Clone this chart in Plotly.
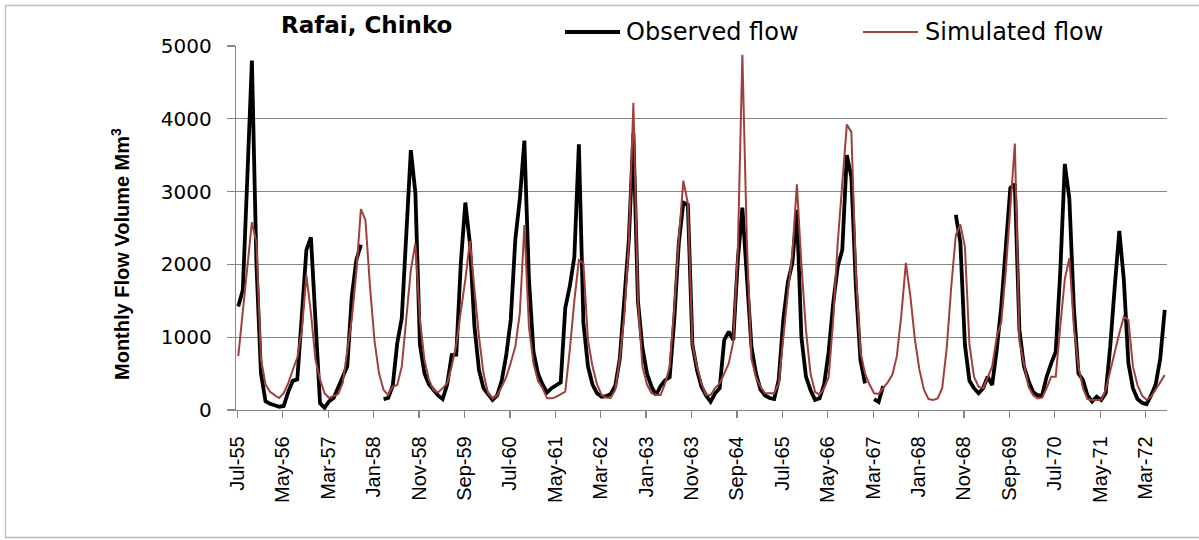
import plotly.graph_objects as go

# ---------------- data (monthly, Jul-55 .. Jul-72) ----------------
month_names = ["Jan", "Feb", "Mar", "Apr", "May", "Jun",
               "Jul", "Aug", "Sep", "Oct", "Nov", "Dec"]
n_months = 205
months = [f"{month_names[(6 + i) % 12]}-{55 + (6 + i) // 12}" for i in range(n_months)]

observed = [
    # Jul-55 .. Jun-56
    1420, 1650, 3200, 4800, 2000, 500, 120, 85, 65, 45, 55, 250,
    # Jul-56 .. Jun-57
    400, 420, 1300, 2200, 2370, 1280, 95, 30, 120, 165, 300, 450,
    # Jul-57 .. Jun-58
    600, 1560, 2060, 2270, None, None, None, None, 150, 165, 330, 916,
    # Jul-58 .. Jun-59
    1260, 2500, 3570, 2980, 900, 500, 350, 275, 200, 150, 350, 756,
    # Jul-59 .. Jun-60
    760, 2015, 2850, 2290, 1150, 550, 300, 220, 140, 200, 400, 750,
    # Jul-60 .. Jun-61
    1240, 2340, 2900, 3700, 1800, 800, 500, 350, 240, 300, 340, 380,
    # Jul-61 .. Jun-62
    1400, 1700, 2100, 3650, 1200, 600, 350, 230, 183, 190, 220, 330,
    # Jul-62 .. Jun-63
    700, 1500, 2340, 3800, 1500, 850, 500, 320, 206, 330, 410, 450,
    # Jul-63 .. Jun-64
    1237, 2290, 2850, 2820, 900, 550, 320, 200, 115, 230, 300, 962,
    # Jul-64 .. Jun-65
    1077, 962, 2060, 2780, 1800, 870, 500, 280, 200, 165, 150, 412,
    # Jul-65 .. Jun-66
    1237, 1750, 2015, 2750, 1000, 458, 275, 140, 160, 350, 800, 1466,
    # Jul-66 .. Jun-67
    1970, 2200, 3500, 3200, 1690, 687, 366, None, 150, 110, 330, None,
    # Jul-67 .. Jun-68
    None, None, None, None, None, None, None, None, None, None, None, None,
    # Jul-68 .. Jun-69
    None, None, 2680, 2300, 900, 400, 300, 230, 300, 458, 343, 824,
    # Jul-69 .. Jun-70
    1420, 2300, 3050, 3100, 1100, 600, 400, 250, 200, 200, 458, 641,
    # Jul-70 .. Jun-71
    800, 1900, 3380, 2900, 1400, 504, 412, 200, 115, 183, 137, 230,
    # Jul-71 .. Jun-72
    870, 1700, 2460, 1787, 641, 300, 150, 100, 80, 200, 350, 700,
    # Jul-72
    1375,
]

simulated = [
    # Jul-55 .. Jun-56
    740, 1350, 1950, 2580, 2300, 700, 350, 250, 205, 165, 230, 370,
    # Jul-56 .. Jun-57
    550, 720, 1100, 1850, 1330, 690, 420, 230, 165, 190, 220, 370,
    # Jul-57 .. Jun-58
    800, 1250, 1900, 2760, 2610, 1700, 950, 500, 275, 206, 320, 343,
    # Jul-58 .. Jun-59
    595, 1237, 1925, 2290, 1237, 687, 412, 275, 240, 300, 366, 600,
    # Jul-59 .. Jun-60
    900, 1350, 1790, 2320, 1700, 1008, 504, 230, 160, 200, 320, 450,
    # Jul-60 .. Jun-61
    650, 870, 1330, 2540, 1145, 641, 400, 300, 160, 160, 180, 220,
    # Jul-61 .. Jun-62
    252, 824, 1500, 2060, 2015, 962, 600, 350, 206, 170, 165, 275,
    # Jul-62 .. Jun-63
    700, 1300, 2300, 4220, 1512, 595, 350, 230, 206, 206, 366, 595,
    # Jul-63 .. Jun-64
    1400, 2340, 3150, 2840, 900, 595, 366, 206, 206, 300, 366, 500,
    # Jul-64 .. Jun-65
    641, 939, 2200, 4880, 2300, 700, 450, 320, 230, 230, 230, 366,
    # Jul-65 .. Jun-66
    1008, 1600, 2150, 3100, 2000, 1100, 500, 250, 210, 300, 450, 1237,
    # Jul-66 .. Jun-67
    2300, 3100, 3920, 3820, 1875, 800, 504, 350, 230, 220, 300, 380,
    # Jul-67 .. Jun-68
    480, 733, 1300, 2020, 1557, 962, 550, 275, 150, 137, 160, 300,
    # Jul-68 .. Jun-69
    850, 1700, 2400, 2550, 2245, 900, 458, 320, 300, 458, 595, 1000,
    # Jul-69 .. Jun-70
    1200, 1900, 2800, 3660, 950, 650, 320, 206, 160, 170, 300, 458,
    # Jul-70 .. Jun-71
    458, 1150, 1800, 2085, 1145, 595, 300, 150, 137, 137, 140, 275,
    # Jul-71 .. Jun-72
    550, 800, 1054, 1283, 1237, 595, 343, 200, 137, 183, 275, 380,
    # Jul-72
    480,
]

tick_every = 10
tick_labels = months[::tick_every]
y_ticks = [0, 1000, 2000, 3000, 4000, 5000]

# ---------------- layout helpers ----------------
W, H = 1199, 540
L, R, T, B = 236, 1167, 46, 410


def px(x):
    return (x - L) / (R - L)


def py(y):
    return (B - y) / (B - T)


grey = "#868686"
red = "#A0403C"

idx = list(range(n_months))

fig = go.Figure()
fig.add_trace(go.Scatter(x=idx, y=observed, mode="lines", name="Observed flow",
                         line=dict(color="black", width=3.8), connectgaps=False,
                         showlegend=False, hoverinfo="skip"))
fig.add_trace(go.Scatter(x=idx, y=simulated, mode="lines", name="Simulated flow",
                         line=dict(color=red, width=2), connectgaps=False,
                         showlegend=False, hoverinfo="skip"))

fig.update_layout(
    width=W, height=H,
    margin=dict(l=L, r=W - R, t=T, b=H - B, pad=0),
    paper_bgcolor="white", plot_bgcolor="white",
    showlegend=False,
    xaxis=dict(
        range=[-0.5, n_months - 0.5],
        tickmode="array",
        tickvals=[i - 0.2 for i in range(0, n_months, tick_every)],
        ticktext=tick_labels,
        tickangle=-90,
        ticks="outside", ticklen=7, tickwidth=1.3, tickcolor=grey,
        showline=True, linecolor=grey, linewidth=1.3,
        showgrid=False, zeroline=False,
        tickfont=dict(family="Liberation Sans, Arial", size=20, color="black"),
        ticklabelstandoff=10,
        automargin=False,
    ),
    yaxis=dict(
        range=[0, 5000],
        tickmode="array", tickvals=y_ticks,
        ticktext=[str(v) for v in y_ticks],
        ticks="outside", ticklen=8, tickwidth=1.3, tickcolor=grey,
        showline=True, linecolor=grey, linewidth=1.3,
        showgrid=True, gridcolor=grey, gridwidth=1.3,
        zeroline=False,
        tickfont=dict(family="DejaVu Sans", size=20, color="black"),
        ticklabelstandoff=11,
        automargin=False,
    ),
)

annotations = [
    dict(text="<b>Rafai, Chinko</b>", x=px(279), y=py(25), xref="paper", yref="paper",
         xanchor="left", yanchor="middle", showarrow=False,
         font=dict(family="DejaVu Sans", size=23, color="black")),
    dict(text="<b>Monthly Flow Volume Mm<sup>3</sup></b>", x=px(120), y=py(254),
         xref="paper", yref="paper", xanchor="center", yanchor="middle",
         textangle=-90, showarrow=False,
         font=dict(family="Liberation Sans, Arial", size=20, color="black")),
    dict(text="Observed flow", x=px(624), y=py(32), xref="paper", yref="paper",
         xanchor="left", yanchor="middle", showarrow=False,
         font=dict(family="DejaVu Sans", size=24, color="black")),
    dict(text="Simulated flow", x=px(923), y=py(32), xref="paper", yref="paper",
         xanchor="left", yanchor="middle", showarrow=False,
         font=dict(family="DejaVu Sans", size=24, color="black")),
]

shapes = [
    dict(type="line", xref="paper", yref="paper", x0=px(565), x1=px(620),
         y0=py(32), y1=py(32), line=dict(color="black", width=3.8)),
    dict(type="line", xref="paper", yref="paper", x0=px(863), x1=px(918),
         y0=py(32), y1=py(32), line=dict(color=red, width=2)),
    dict(type="rect", xref="paper", yref="paper", x0=px(5.5), x1=px(1205),
         y0=py(537.5), y1=py(5.5), line=dict(color="#bdbdbd", width=1.3),
         layer="below"),
]

fig.update_layout(annotations=annotations, shapes=shapes)
fig.write_html(
    "out.html",
    config=dict(displayModeBar=False, staticPlot=True),
    post_script="document.body.style.margin='0';document.body.style.overflow='hidden';",
)
